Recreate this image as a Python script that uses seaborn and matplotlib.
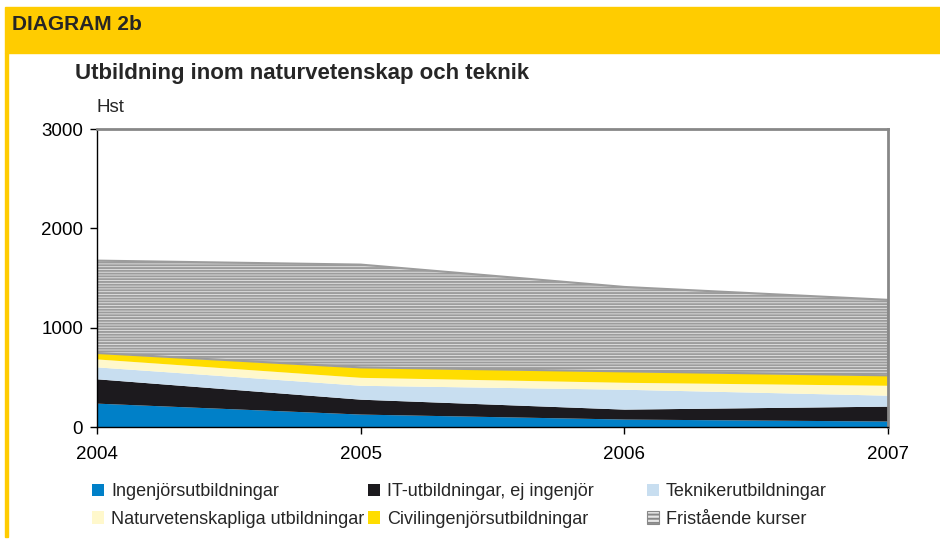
import numpy as np
import pandas as pd
import matplotlib
matplotlib.use("Agg")
import matplotlib.pyplot as plt
import seaborn as sns
from matplotlib.patches import Rectangle, Patch

years = [2004, 2005, 2006, 2007]
series_names = [
    "Ingenjörsutbildningar",
    "IT-utbildningar, ej ingenjör",
    "Teknikerutbildningar",
    "Naturvetenskapliga utbildningar",
    "Civilingenjörsutbildningar",
    "Fristående kurser",
]
ingenjor = [240, 130, 80, 60]
it_ej_ingenjor = [245, 150, 100, 150]
tekniker = [120, 140, 200, 110]
naturvetenskap = [80, 80, 70, 100]
civilingenjor = [60, 100, 110, 100]
fristaende = [930, 1035, 850, 760]

colors = ["#0080c8", "#1c1a1e", "#c8def0", "#fff8cc", "#ffdd00", "#e6e6e6"]

df = pd.DataFrame({
    "År": years,
    series_names[0]: ingenjor,
    series_names[1]: it_ej_ingenjor,
    series_names[2]: tekniker,
    series_names[3]: naturvetenskap,
    series_names[4]: civilingenjor,
    series_names[5]: fristaende,
})

sns.set_theme(style="white")
plt.rcParams["font.family"] = ["Liberation Sans", "DejaVu Sans"]
plt.rcParams["hatch.linewidth"] = 1.4

fig = plt.figure(figsize=(9.4, 5.41), dpi=100)
ax = fig.add_axes([97 / 940, 1 - 427 / 541, (888 - 97) / 940, (427 - 129) / 541])

polys = ax.stackplot(df["År"], *[df[n] for n in series_names],
                     colors=colors, linewidth=0)
polys[-1].set_hatch("------")
polys[-1].set_edgecolor("#9c9c9c")
polys[-1].set_linewidth(1.5)

ax.set_xlim(2004, 2007)
ax.set_ylim(0, 3000)
ax.set_xticks(years)
ax.set_yticks([0, 1000, 2000, 3000])
ax.tick_params(axis="both", labelsize=13.5, colors="black", length=5,
               width=1, direction="out", pad=5)
ax.tick_params(axis="x", pad=9)
ax.tick_params(left=True, bottom=True)
for side in ["top", "right"]:
    ax.spines[side].set_color("#888888")
    ax.spines[side].set_linewidth(2)
for side in ["left", "bottom"]:
    ax.spines[side].set_color("black")
    ax.spines[side].set_linewidth(1)
ax.set_xlabel("")
ax.set_ylabel("")

# header band and left rule
fig.patches.append(Rectangle((5 / 940, 1 - 53 / 541), 1, 46 / 541,
                             transform=fig.transFigure, color="#ffcc00", zorder=0))
fig.patches.append(Rectangle((5 / 940, 4 / 541), 3 / 940, (541 - 53 - 4) / 541,
                             transform=fig.transFigure, color="#ffcc00", zorder=0))
fig.text(12 / 940, 1 - 25 / 541, "DIAGRAM 2b", fontsize=15, fontweight="bold",
         va="center", ha="left")
fig.text(75 / 940, 1 - 74 / 541, "Utbildning inom naturvetenskap och teknik",
         fontsize=16, fontweight="bold", va="center", ha="left")
fig.text(97 / 940, 1 - 108 / 541, "Hst", fontsize=13.5, va="center", ha="left")

# legend, three columns filled row by row
handles = [Patch(facecolor=c, edgecolor="none") for c in colors]
handles[-1] = Patch(facecolor=colors[-1], edgecolor="#888888", hatch="----", linewidth=0.8)
col_x = [92 / 940, 368 / 940, 647 / 940]
for i, x in enumerate(col_x):
    fig.legend([handles[i], handles[i + 3]], [series_names[i], series_names[i + 3]],
               loc="upper left", bbox_to_anchor=(x, 1 - 483 / 541), frameon=False,
               fontsize=13, borderpad=0, borderaxespad=0, handlelength=0.65,
               handleheight=0.65, handletextpad=0.4, labelspacing=0.6)

fig.savefig("out.png", dpi=100)
